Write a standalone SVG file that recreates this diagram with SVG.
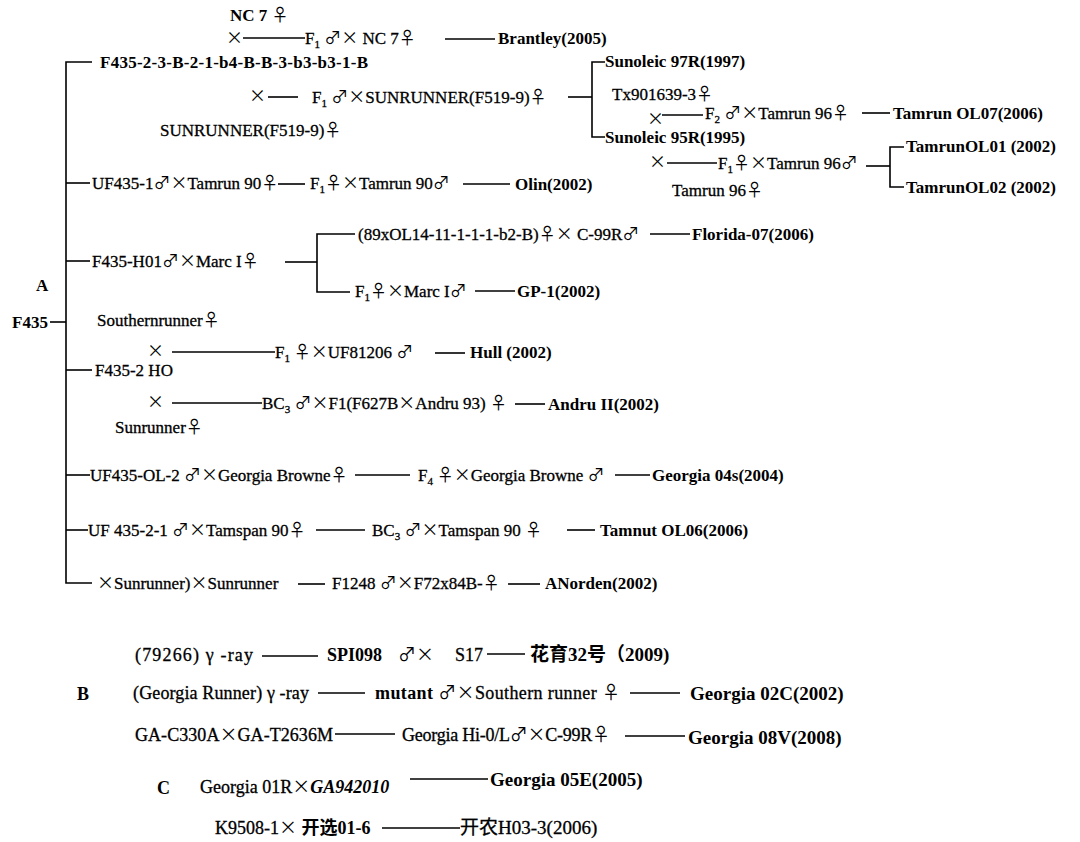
<svg xmlns="http://www.w3.org/2000/svg" width="1080" height="842" viewBox="0 0 1080 842">
<style>
.t{font-family:"Liberation Serif","Times New Roman","Noto Sans CJK SC",serif;font-size:17px;fill:#000;stroke:#000;stroke-width:0.3}
.b{font-weight:bold;stroke-width:0}
.i{font-style:italic}
.l{font-size:18px}
.r{font-size:19px}
.s{font-family:"Noto Sans CJK SC",sans-serif;font-weight:normal;font-style:normal;stroke-width:0}
.cn line,.cn path{stroke:#000;stroke-width:1.6;fill:none}
</style>
<rect width="1080" height="842" fill="#fff"/>
<g class="cn" id="connectors">
<line x1="243" y1="38" x2="305" y2="38"/>
<line x1="445" y1="39" x2="495" y2="39"/>
<path d="M92 62 H66 V583 H92"/>
<line x1="50" y1="322" x2="66" y2="322"/>
<line x1="268" y1="97" x2="298" y2="97"/>
<line x1="568" y1="97" x2="592" y2="97"/>
<path d="M605 62 H592 V137 H605"/>
<line x1="662" y1="115" x2="703" y2="115"/>
<line x1="862" y1="113" x2="890" y2="113"/>
<line x1="667" y1="163" x2="717" y2="163"/>
<line x1="866" y1="166" x2="890" y2="166"/>
<path d="M904 147 H890 V187 H904"/>
<line x1="66" y1="183" x2="90" y2="183"/>
<line x1="278" y1="184" x2="305" y2="184"/>
<line x1="463" y1="184" x2="510" y2="184"/>
<line x1="66" y1="261" x2="90" y2="261"/>
<line x1="285" y1="262" x2="317" y2="262"/>
<path d="M355 234 H317 V292 H350"/>
<line x1="650" y1="234" x2="690" y2="234"/>
<line x1="475" y1="291" x2="515" y2="291"/>
<line x1="172" y1="352" x2="275" y2="352"/>
<line x1="435" y1="353" x2="465" y2="353"/>
<line x1="66" y1="370" x2="92" y2="370"/>
<line x1="172" y1="403" x2="262" y2="403"/>
<line x1="515" y1="404" x2="545" y2="404"/>
<line x1="66" y1="475" x2="90" y2="475"/>
<line x1="355" y1="475" x2="410" y2="475"/>
<line x1="615" y1="475" x2="650" y2="475"/>
<line x1="66" y1="530" x2="88" y2="530"/>
<line x1="316" y1="530" x2="365" y2="530"/>
<line x1="567" y1="530" x2="595" y2="530"/>
<line x1="298" y1="584" x2="325" y2="584"/>
<line x1="508" y1="584" x2="540" y2="584"/>
<line x1="262" y1="656" x2="318" y2="656"/>
<line x1="487" y1="654" x2="525" y2="654"/>
<line x1="318" y1="693" x2="365" y2="693"/>
<line x1="630" y1="693" x2="680" y2="693"/>
<line x1="335" y1="734" x2="395" y2="734"/>
<line x1="625" y1="736" x2="685" y2="736"/>
<line x1="410" y1="779" x2="488" y2="779"/>
<line x1="382" y1="828" x2="460" y2="828"/>
</g>
<g id="brantley">
<text class="t b" x="230" y="21">NC 7 <tspan class="s">♀</tspan></text>
<text class="t" x="226" y="44"><tspan class="s">×</tspan></text>
<text class="t" x="305" y="44">F<tspan font-size="11" dy="4">1</tspan><tspan dy="-4"> </tspan><tspan class="s">♂×</tspan>  NC 7<tspan class="s">♀</tspan></text>
<text class="t b" x="498" y="44">Brantley(2005)</text>
</g>
<g id="sunoleic">
<text class="t b" x="100" y="68" textLength="268">F435-2-3-B-2-1-b4-B-B-3-b3-b3-1-B</text>
<text class="t" x="249" y="102"><tspan class="s">×</tspan></text>
<text class="t" x="312" y="103">F<tspan font-size="11" dy="4">1</tspan><tspan dy="-4"> </tspan><tspan class="s">♂×</tspan>SUNRUNNER(F519-9)<tspan class="s">♀</tspan></text>
<text class="t" x="160" y="136">SUNRUNNER(F519-9)<tspan class="s">♀</tspan></text>
<text class="t b" x="605" y="67">Sunoleic 97R(1997)</text>
<text class="t b" x="605" y="143">Sunoleic 95R(1995)</text>
</g>
<g id="tamrun-ol07">
<text class="t" x="612" y="100">Tx901639-3<tspan class="s">♀</tspan></text>
<text class="t" x="647" y="125"><tspan class="s">×</tspan></text>
<text class="t" x="705" y="119">F<tspan font-size="11" dy="4">2</tspan><tspan dy="-4"> </tspan><tspan class="s">♂×</tspan>Tamrun 96<tspan class="s">♀</tspan></text>
<text class="t b" x="893" y="119">Tamrun OL07(2006)</text>
</g>
<g id="tamrun-ol01-02">
<text class="t" x="649" y="168"><tspan class="s">×</tspan></text>
<text class="t" x="718" y="169">F<tspan font-size="11" dy="4">1</tspan><tspan dy="-4" class="s">♀×</tspan>Tamrun 96<tspan class="s">♂</tspan></text>
<text class="t" x="672" y="196">Tamrun 96<tspan class="s">♀</tspan></text>
<text class="t b" x="906" y="152">TamrunOL01 (2002)</text>
<text class="t b" x="906" y="193">TamrunOL02 (2002)</text>
</g>
<g id="olin">
<text class="t" x="92" y="189">UF435-1<tspan class="s">♂×</tspan>Tamrun 90<tspan class="s">♀</tspan></text>
<text class="t" x="310" y="189">F<tspan font-size="11" dy="4">1</tspan><tspan dy="-4" class="s">♀×</tspan>Tamrun 90<tspan class="s">♂</tspan></text>
<text class="t b" x="515" y="190">Olin(2002)</text>
</g>
<g id="florida-gp1">
<text class="t" x="92" y="267">F435-H01<tspan class="s">♂×</tspan>Marc I<tspan class="s">♀</tspan></text>
<text class="t" x="358" y="240">(89xOL14-11-1-1-1-b2-B)<tspan class="s">♀×</tspan> C-99R<tspan class="s">♂</tspan></text>
<text class="t b" x="692" y="240">Florida-07(2006)</text>
<text class="t" x="355" y="297">F<tspan font-size="11" dy="4">1</tspan><tspan dy="-4" class="s">♀×</tspan>Marc I<tspan class="s">♂</tspan></text>
<text class="t b" x="517" y="297">GP-1(2002)</text>
</g>
<g id="root">
<text class="t b" x="36" y="291">A</text>
<text class="t b" x="12" y="328">F435</text>
</g>
<g id="hull">
<text class="t" x="97" y="326">Southernrunner<tspan class="s">♀</tspan></text>
<text class="t" x="147" y="357"><tspan class="s">×</tspan></text>
<text class="t" x="275" y="358">F<tspan font-size="11" dy="4">1</tspan><tspan dy="-4" class="s">  ♀×</tspan>UF81206 <tspan class="s">♂</tspan></text>
<text class="t b" x="470" y="358">Hull (2002)</text>
</g>
<g id="andru">
<text class="t" x="95" y="376">F435-2 HO</text>
<text class="t" x="147" y="408"><tspan class="s">×</tspan></text>
<text class="t" x="262" y="409">BC<tspan font-size="11" dy="4">3</tspan><tspan dy="-4"> </tspan><tspan class="s">♂×</tspan>F1(F627B<tspan class="s">×</tspan>Andru 93)  <tspan class="s">♀</tspan></text>
<text class="t b" x="548" y="410">Andru II(2002)</text>
<text class="t" x="115" y="433">Sunrunner<tspan class="s">♀</tspan></text>
</g>
<g id="georgia04s">
<text class="t" x="90" y="481">UF435-OL-2 <tspan class="s">♂×</tspan>Georgia Browne<tspan class="s">♀</tspan></text>
<text class="t" x="418" y="481">F<tspan font-size="11" dy="4">4</tspan><tspan dy="-4" class="s"> ♀×</tspan>Georgia Browne <tspan class="s">♂</tspan></text>
<text class="t b" x="652" y="481">Georgia 04s(2004)</text>
</g>
<g id="tamnut">
<text class="t" x="88" y="536">UF 435-2-1 <tspan class="s">♂×</tspan>Tamspan 90<tspan class="s">♀</tspan></text>
<text class="t" x="372" y="536">BC<tspan font-size="11" dy="4">3</tspan><tspan dy="-4">  </tspan><tspan class="s">♂×</tspan>Tamspan 90 <tspan class="s">♀</tspan></text>
<text class="t b" x="600" y="536">Tamnut OL06(2006)</text>
</g>
<g id="anorden">
<text class="t" x="97" y="589"><tspan class="s">×</tspan>Sunrunner)<tspan class="s">×</tspan>Sunrunner</text>
<text class="t" x="332" y="589">F1248 <tspan class="s">♂×</tspan>F72x84B-<tspan class="s">♀</tspan></text>
<text class="t b" x="545" y="589">ANorden(2002)</text>
</g>
<g id="huayu32">
<text class="t l" x="135" y="661" textLength="118">(79266) γ -ray</text>
<text class="t l" x="327" y="661"><tspan class="b">SPI098</tspan> <tspan x="398" class="s">♂×</tspan><tspan x="455">S17</tspan></text>
<text class="t b r" x="530" y="661">花育32号（2009)</text>
</g>
<g id="georgia02c">
<text class="t b l" x="77" y="700">B</text>
<text class="t l" x="133" y="699" textLength="176">(Georgia Runner) γ -ray</text>
<text class="t l" x="375" y="699" textLength="245"><tspan class="b">mutant</tspan> <tspan class="s">♂×</tspan>Southern runner <tspan class="s">♀</tspan></text>
<text class="t b r" x="690" y="700">Georgia 02C(2002)</text>
</g>
<g id="georgia08v">
<text class="t l" x="135" y="741" textLength="198">GA-C330A<tspan class="s">×</tspan>GA-T2636M</text>
<text class="t l" x="402" y="741" textLength="208">Georgia Hi-0/L<tspan class="s">♂×</tspan>C-99R<tspan class="s">♀</tspan></text>
<text class="t b r" x="688" y="744">Georgia 08V(2008)</text>
</g>
<g id="georgia05e">
<text class="t b l" x="157" y="794">C</text>
<text class="t l" x="200" y="793">Georgia 01R<tspan class="s">×</tspan><tspan class="b i">GA942010</tspan></text>
<text class="t b r" x="490" y="786">Georgia 05E(2005)</text>
</g>
<g id="kainong">
<text class="t l" x="215" y="834">K9508-1<tspan class="s">×</tspan> <tspan class="b">开选01-6</tspan></text>
<text class="t r" x="460" y="834">开农H03-3(2006)</text>
</g>
</svg>
